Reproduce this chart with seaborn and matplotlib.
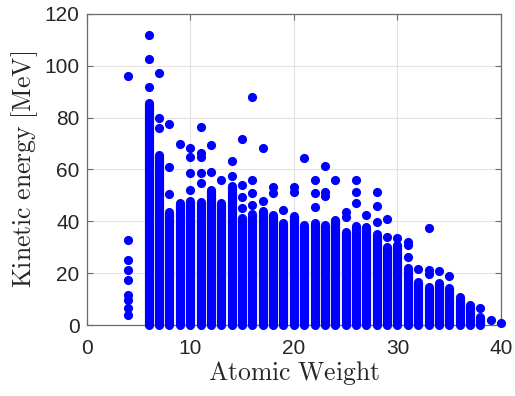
import numpy as np
import pandas as pd
import matplotlib
matplotlib.use("Agg")
import matplotlib.pyplot as plt
import seaborn as sns

# Dense columns: atomic weight and top of the continuous band of points (MeV)
dense_weights = [6, 7, 8, 9, 10, 11, 12, 13, 14, 15, 16, 17, 18, 19, 20, 21, 22,
                 23, 24, 25, 26, 27, 28, 29, 30, 31, 32, 33, 34, 35, 36, 37, 38]
dense_tops = [85.5, 65.5, 43.7, 47.0, 48.0, 47.6, 52.0, 47.0, 53.5, 41.2, 43.0,
              44.0, 42.4, 39.2, 42.0, 38.6, 39.2, 38.5, 40.5, 36.0, 38.2, 37.9,
              35.0, 30.2, 30.9, 21.9, 16.7, 14.8, 16.1, 14.5, 10.9, 7.7, 3.2]

# Isolated points (atomic weight, kinetic energy in MeV)
point_weights = [4, 4, 4, 4, 4, 4, 4, 4, 4,
                 6, 6, 6,
                 7, 7, 7,
                 8, 8, 8,
                 9,
                 10, 10, 10, 10,
                 11, 11, 11, 11, 11,
                 12, 12,
                 13,
                 14, 14,
                 15, 15, 15, 15,
                 16, 16, 16, 16,
                 17, 17,
                 18, 18,
                 19,
                 20, 20,
                 21,
                 22, 22, 22,
                 23, 23, 23,
                 24,
                 25, 25,
                 26, 26, 26,
                 27,
                 28, 28, 28,
                 29, 29,
                 30,
                 31, 31, 31,
                 32,
                 33, 33, 33,
                 34,
                 35,
                 38,
                 39,
                 40]
point_energies = [96.0, 33.0, 25.0, 21.2, 17.4, 11.6, 9.6, 6.6, 3.9,
                  112.0, 102.7, 91.7,
                  97.1, 79.7, 75.9,
                  77.4, 61.1, 50.5,
                  69.7,
                  68.4, 64.7, 58.5, 52.1,
                  76.5, 66.5, 65.0, 58.5, 54.9,
                  69.3, 59.2,
                  55.9,
                  63.3, 57.5,
                  71.9, 54.0, 49.5, 45.0,
                  88.0, 56.0, 50.8, 46.3,
                  68.4, 48.0,
                  53.4, 50.8,
                  44.2,
                  53.4, 51.4,
                  64.3,
                  55.9, 51.1, 45.7,
                  61.3, 51.4, 49.8,
                  55.9,
                  43.5, 41.8,
                  55.9, 51.4, 47.2,
                  42.4,
                  51.2, 45.8, 39.7,
                  40.9, 34.1,
                  33.4,
                  32.2, 30.9, 26.1,
                  21.5,
                  37.3, 21.2, 19.7,
                  20.9,
                  18.9,
                  6.6,
                  1.9,
                  0.8]

x_ticks = [0, 10, 20, 30, 40]
y_ticks = [0, 20, 40, 60, 80, 100, 120]

sns.set_theme(style="white")
plt.rcParams["font.family"] = ["Liberation Sans", "DejaVu Sans"]
plt.rcParams["mathtext.fontset"] = "cm"

fig = plt.figure(figsize=(5.15, 3.96), dpi=100)
ax = fig.add_axes([0.168, 0.179, 0.805, 0.786])

blue = "#0000ff"
marker_d = 6.6  # points

# dense bands
ax.vlines(dense_weights, [0] * len(dense_weights), dense_tops, colors=blue,
          linewidth=marker_d, capstyle="round", clip_on=False, zorder=3)

df = pd.DataFrame({"w": point_weights, "e": point_energies})
sns.scatterplot(data=df, x="w", y="e", ax=ax, color=blue, s=marker_d ** 2,
                linewidth=0, clip_on=False, zorder=4)

ax.set_xlim(0, 40)
ax.set_ylim(0, 120)
ax.set_xticks(x_ticks)
ax.set_yticks(y_ticks)
ax.set_xticklabels([str(t) for t in x_ticks])
ax.set_yticklabels([str(t) for t in y_ticks])
ax.grid(True, color="#e3e3e3", linewidth=0.8)
ax.set_axisbelow(True)
for s in ax.spines.values():
    s.set_visible(True)
    s.set_color("#6b6b6b")
    s.set_linewidth(0.9)
ax.tick_params(direction="in", length=4, width=0.8, color="#6b6b6b",
               labelsize=15, labelcolor="#262626", top=True, right=True,
               left=True, bottom=True)
ax.tick_params(axis="x", pad=10)
ax.tick_params(axis="y", pad=5)
ax.set_xlabel(r"$\mathrm{Atomic\ Weight}$", fontsize=18.5, color="#262626", labelpad=1)
ax.set_ylabel(r"$\mathrm{Kinetic\ energy\ [MeV]}$", fontsize=18.5, color="#262626", labelpad=3)

fig.savefig("out.png", dpi=100)
